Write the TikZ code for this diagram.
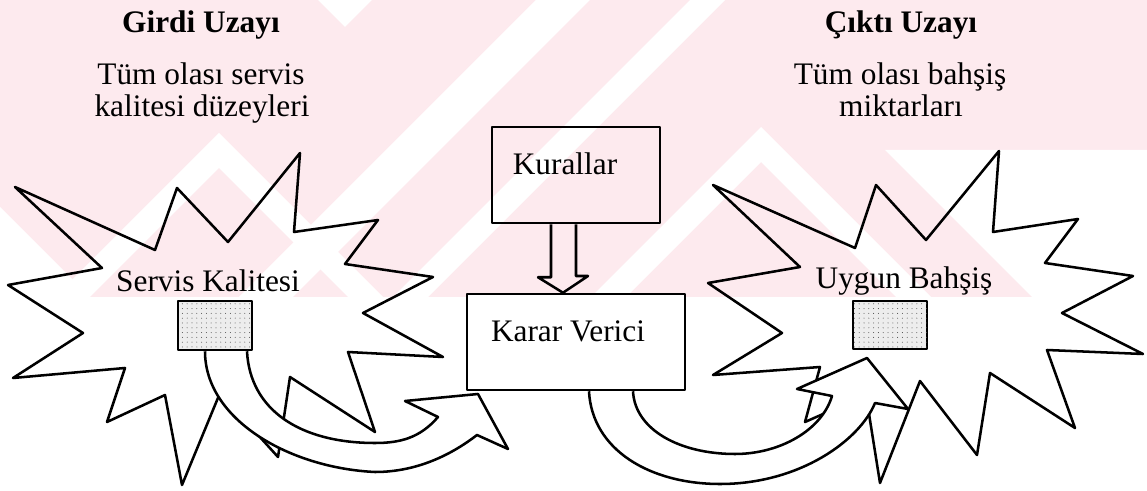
\documentclass[tikz,border=0pt]{standalone}
\usepackage{fontspec}
\setmainfont{Liberation Serif}
\usetikzlibrary{calc,patterns.meta}
\definecolor{wm}{RGB}{253,234,238}
\begin{document}
\begin{tikzpicture}[x=0.75pt,y=-0.75pt,
  outline/.style={draw=black,line width=1.9pt,line join=round},
  boxst/.style={outline,rectangle,inner sep=0pt},
  stipple/.style={boxst,fill=black!7,postaction={pattern={Dots[distance=3.6pt,radius=0.38pt]},pattern color=black!70}},
  txt/.style={font=\fontsize{23.5}{28}\selectfont,inner sep=0pt,anchor=base},
  ttl/.style={txt,font=\fontsize{23.5}{28}\selectfont\bfseries}]
\useasboundingbox (0,0) rectangle (1147,491);

% faint background emblem: pink band with white chevrons and stripes
\begin{scope}
  \clip (0,0) rectangle (1147,297);
  \fill[wm] (0,0) rectangle (1147,297);
  \fill[white] (318,0) -- (345,27) -- (372,0) -- cycle;
  \fill[white] (55,297) -- (219,133) -- (383,297) -- (348,297) -- (219,168) -- (90,297) -- cycle;
  \fill[white] (591,297) -- (761,127) -- (931,297) -- (896,297) -- (761,162) -- (626,297) -- cycle;
  \fill[white] (536,0) -- (590,0) -- (293,297) -- (239,297) -- cycle;
  \fill[white] (690,0) -- (725,0) -- (428,297) -- (393,297) -- cycle;
  \fill[white] (0,207) -- (0,297) -- (90,297) -- cycle;
  \fill[white] (885,150) -- (1147,150) -- (1147,297) -- (1032,297) -- cycle;
\end{scope}

% input space star
\draw[outline] (15,187) -- (155,250) -- (177,188) -- (228,242) -- (300,153) -- (294,232)
  -- (378,220) -- (345,264) -- (433,277) -- (363,313) -- (443,357) -- (348,352)
  -- (375,432) -- (290,377) -- (278,457) -- (220,393) -- (182,485) -- (165,395)
  -- (107,422) -- (125,368) -- (13,378) -- (83,333) -- (8,285) -- (102,268) -- cycle;

% output space star
\draw[outline] (713,185) -- (855,248) -- (876,185) -- (926,240) -- (999,151) -- (993,232)
  -- (1078,219) -- (1045,263) -- (1133,276) -- (1062,313) -- (1143,354) -- (1047,350)
  -- (1075,428) -- (990,373) -- (977,455) -- (920,381) -- (880,483) -- (866,395)
  -- (805,422) -- (820,367) -- (713,375) -- (782,333) -- (708,283) -- (800,267) -- cycle;

% boxes
\node[boxst,fill=white,minimum width=163.5pt,minimum height=72pt] (karar) at (576,342) {};
\node[boxst,minimum width=126pt,minimum height=72pt] (kural) at (576,175) {};
\node[stipple,minimum width=55.5pt,minimum height=36.75pt] (sqL) at (215,325.5) {};
\node[stipple,minimum width=55.5pt,minimum height=36pt] (sqR) at (890,325) {};

% curved arrow: input value to the decision maker
\filldraw[outline,fill=white] ($(sqL.south)+(32,0)$)
  .. controls (250,410) and (300,443) .. (375,443)
  .. controls (400,443) and (420,438) .. (438,417)
  -- (405,401) -- (478,394) -- (508,449) -- (477,435)
  .. controls (455,452) and (420,472) .. (375,472)
  .. controls (290,468) and (205,420) .. ($(sqL.south)+(-10,0)$);

% curved arrow: decision maker to output value
\filldraw[outline,fill=white] ($(karar.south)+(57,0)$)
  .. controls (635,430) and (680,454) .. (735,454)
  .. controls (780,454) and (822,430) .. (832,396)
  -- (797,389) -- (867,358) -- (908,409) -- (875,403)
  .. controls (860,440) and (800,484) .. (720,484)
  .. controls (650,484) and (592,450) .. ($(karar.south)+(13,0)$);

% hollow arrow: rules feed the decision maker
\draw[outline] ($(kural.south)+(-25,0)$) -- ++(0,53) -- ++(-13,0)
  -- ($(karar.north)+(-13,0)$) -- (588,276) -- (576,276) -- (kural.south);

% labels
\node[ttl] (girdi) at (201,33) {Girdi Uzayı};
\node[txt] (girdi1) at (201,85) {Tüm olası servis};
\node[txt] (girdi2) at (202,117) {kalitesi düzeyleri};
\node[ttl] (cikti) at (901,33) {Çıktı Uzayı};
\node[txt] (cikti1) at (900,85) {Tüm olası bahşiş};
\node[txt] (cikti2) at (901,117) {miktarları};
\node[txt] (servis) at (208,292) {Servis Kalitesi};
\node[txt] (uygun) at (904,289) {Uygun Bahşiş};
\node[txt] (kuraltxt) at (565,175) {Kurallar};
\node[txt] (karartxt) at (568,342) {Karar Verici};
\end{tikzpicture}
\end{document}
